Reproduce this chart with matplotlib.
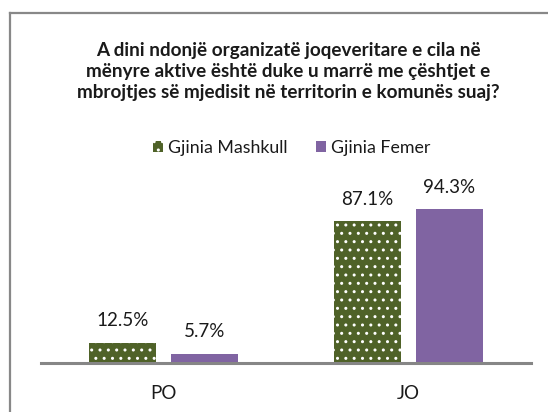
import matplotlib
matplotlib.use("Agg")
import matplotlib.pyplot as plt
from matplotlib.lines import Line2D
import numpy as np

categories = ["PO", "JO"]
series_names = ["Gjinia Mashkull", "Gjinia Femer"]
mashkull = [12.5, 87.1]
femer = [5.7, 94.3]
title = ("A dini ndonjë organizatë joqeveritare e cila në\n"
         "mënyre aktive është duke u marrë me çështjet e\n"
         "mbrojtjes së mjedisit në territorin e komunës suaj?")

plt.rcParams['font.family'] = ['Lato', 'DejaVu Sans']
plt.rcParams['hatch.linewidth'] = 1.0

W, H = 548, 412
fig = plt.figure(figsize=(W/100, H/100), dpi=100)
fig.patch.set_facecolor('white')

# outer border (only top and left visible)
fig.add_artist(Line2D([10/W, 10/W], [0, 1-12.5/H], transform=fig.transFigure, color='#888888', lw=1.6))
fig.add_artist(Line2D([10/W, 1], [1-12.5/H, 1-12.5/H], transform=fig.transFigure, color='#888888', lw=1.6))

ax = fig.add_axes([41/W, 49/H, 490/W, 163/H])
x = np.arange(len(categories))
bw = 0.27
gap = 0.065
green = '#4F6228'
purple = '#8064A2'
b1 = ax.bar(x - bw/2 - gap/2, mashkull, bw, color=green, edgecolor='white', linewidth=0, hatch='..', label=series_names[0])
b2 = ax.bar(x + bw/2 + gap/2, femer, bw, color=purple, linewidth=0, label=series_names[1])

for rects, vals in ((b1, mashkull), (b2, femer)):
    for r, v in zip(rects, vals):
        ax.text(r.get_x() + r.get_width()/2, v + 13.5, f"{v:.1f}%", ha='center', va='center',
                fontsize=13.5, color='#1a1a1a', clip_on=False)

ax.set_xlim(-0.5, 1.5)
ax.set_ylim(0, 100)
ax.set_xticks(x)
ax.set_xticklabels(categories, fontsize=13.5, color='#1a1a1a')
ax.tick_params(axis='x', length=0, pad=16)
ax.set_yticks([])
for s in ['top', 'right', 'left']:
    ax.spines[s].set_visible(False)
ax.spines['bottom'].set_color('#868686')
ax.spines['bottom'].set_linewidth(2.2)

fig.text(288/W, 1-71.5/H, title, ha='center', va='center', fontsize=13.6, fontweight='bold',
         color='#1a1a1a', linespacing=1.3)

leg = fig.legend(handles=[b1, b2], labels=series_names, loc='center', bbox_to_anchor=(292/W, 1-148/H),
                 ncol=2, frameon=False, fontsize=12.8, handlelength=0.55, handleheight=0.55,
                 handletextpad=0.3, columnspacing=1.6)
for t in leg.get_texts():
    t.set_color('#1a1a1a')

fig.savefig('out.png', dpi=100)
